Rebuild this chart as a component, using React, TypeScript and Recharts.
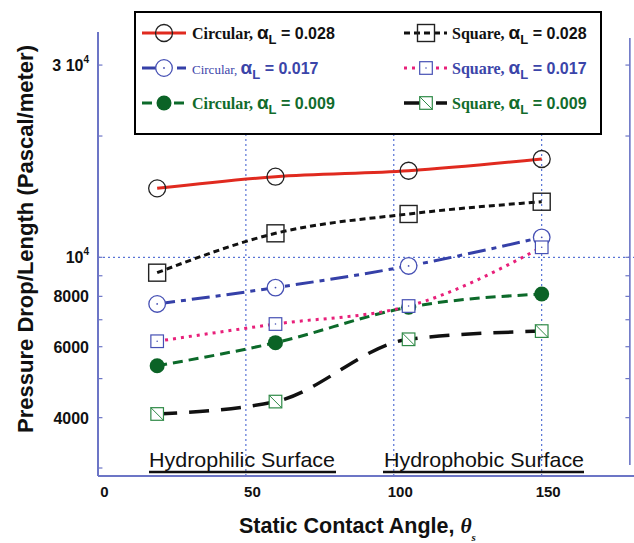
import { LineChart, Line, XAxis, YAxis, ReferenceLine, Legend } from 'recharts'

// contact angle (deg) of the four test surfaces
const angles = [20, 60, 105, 150]

// pressure drop per length, Pa/m
const circular028 = [14830, 15850, 16400, 17540]
const square028 = [9160, 11470, 12810, 13740]
const circular017 = [7660, 8410, 9520, 11210]
const square017 = [6190, 6830, 7570, 10590]
const circular009 = [5380, 6140, 7520, 8110]
const square009 = [4085, 4385, 6260, 6560]

const xTicks = [0, 50, 100, 150]
const yTicks = [4000, 6000, 8000, 10000, 30000]
const minorTicks = [3000, 4000, 5000, 6000, 7000, 8000, 9000, 10000, 20000, 30000]
const gridAngles = [50, 100, 150]

const AXIS = '#6c75c6'
const GRID = '#3355cc'

type MarkerKind = 'circle' | 'circleDot' | 'disc' | 'square' | 'squareDot' | 'squareSlash'

interface Series {
  key: string
  shape: string
  alpha: string
  values: number[]
  color: string
  dash?: string
  width: number
  marker: MarkerKind
  textColor: string
  small?: boolean
}

const series: Series[] = [
  { key: 'c009', shape: 'Circular,', alpha: '0.009', values: circular009, color: '#0c6a2a', dash: '10 6', width: 3, marker: 'disc', textColor: '#116b2c' },
  { key: 's009', shape: 'Square,', alpha: '0.009', values: square009, color: '#111', dash: '20 12', width: 3.5, marker: 'squareSlash', textColor: '#116b2c' },
  { key: 'c017', shape: 'Circular,', alpha: '0.017', values: circular017, color: '#3540a8', dash: '18 6 5 6', width: 3, marker: 'circleDot', textColor: '#3b45a9', small: true },
  { key: 's017', shape: 'Square,', alpha: '0.017', values: square017, color: '#e8207a', dash: '3 5', width: 3, marker: 'squareDot', textColor: '#3b45a9' },
  { key: 'c028', shape: 'Circular,', alpha: '0.028', values: circular028, color: '#e02a1f', width: 3, marker: 'circle', textColor: '#111' },
  { key: 's028', shape: 'Square,', alpha: '0.028', values: square028, color: '#111', dash: '6 4', width: 3, marker: 'square', textColor: '#111' },
]

const legendRows = [
  ['c028', 's028'],
  ['c017', 's017'],
  ['c009', 's009'],
]

const data = angles.map((angle, i) => {
  const row: Record<string, number> = { angle }
  series.forEach((s) => (row[s.key] = s.values[i]))
  return row
})

function drawMarker(kind: MarkerKind, cx: number, cy: number, key?: string | number) {
  switch (kind) {
    case 'circle':
      return <circle key={key} cx={cx} cy={cy} r={8.5} fill='none' stroke='#222' strokeWidth={1.3} />
    case 'circleDot':
      return (
        <g key={key}>
          <circle cx={cx} cy={cy} r={8.3} fill='#fff' stroke='#4650b4' strokeWidth={1.3} />
          <circle cx={cx} cy={cy} r={0.9} fill='#4650b4' />
        </g>
      )
    case 'disc':
      return <circle key={key} cx={cx} cy={cy} r={7.5} fill='#0b6326' />
    case 'square':
      return <rect key={key} x={cx - 8.5} y={cy - 8.5} width={17} height={17} fill='none' stroke='#222' strokeWidth={1.4} />
    case 'squareDot':
      return (
        <g key={key}>
          <rect x={cx - 6.3} y={cy - 6.3} width={12.6} height={12.6} fill='#fff' stroke='#4650b4' strokeWidth={1.2} />
          <circle cx={cx} cy={cy} r={0.8} fill='#4650b4' />
        </g>
      )
    case 'squareSlash':
      return (
        <g key={key}>
          <rect x={cx - 6.3} y={cy - 6.3} width={12.6} height={12.6} fill='#fff' stroke='#2f8a47' strokeWidth={1.2} />
          <line x1={cx - 6.3} y1={cy - 6.3} x2={cx + 6.3} y2={cy + 6.3} stroke='#2f8a47' strokeWidth={1} />
        </g>
      )
  }
}

function LegendBox() {
  const cols = [
    { x1: 8, x2: 52, mx: 30, tx: 58 },
    { x1: 270, x2: 313, mx: 292, tx: 318 },
  ]
  return (
    <svg width={468} height={124} style={{ display: 'block' }}>
      <rect x={1} y={1} width={466} height={122} fill='#fff' stroke='#000' strokeWidth={2} />
      {legendRows.map((row, r) =>
        row.map((k, c) => {
          const s = series.find((it) => it.key === k)!
          const col = cols[c]
          const y = 22 + r * 35
          return (
            <g key={k}>
              <line x1={col.x1} x2={col.x2} y1={y} y2={y} stroke={s.color} strokeWidth={s.width} strokeDasharray={s.dash} />
              {drawMarker(s.marker, col.mx, y)}
              <text x={col.tx} y={y + 6} fill={s.textColor}>
                <tspan fontFamily='Liberation Serif' fontWeight={s.small ? 'normal' : 'bold'} fontSize={s.small ? 13 : 16}>
                  {s.shape}{' '}
                </tspan>
                <tspan fontFamily='Liberation Sans' fontWeight='bold' fontSize={19}>α</tspan>
                <tspan fontFamily='Liberation Sans' fontWeight='bold' fontSize={13} dy={5}>L</tspan>
                <tspan fontFamily='Liberation Sans' fontWeight='bold' fontSize={16} dy={-5}>{` = ${s.alpha}`}</tspan>
              </text>
            </g>
          )
        })
      )}
    </svg>
  )
}

function XTick(props: any) {
  const { x, y, payload } = props
  return (
    <text x={x + 6.5} y={y + 21} textAnchor='middle' fontFamily='Liberation Sans' fontWeight='bold' fontSize={15} fill='#111'>
      {payload.value}
    </text>
  )
}

function YTick(props: any) {
  const { x, y, payload } = props
  const v = payload.value as number
  const common = { fontFamily: 'Liberation Sans', fontWeight: 'bold', fill: '#111' } as const
  if (v >= 10000) {
    const lead = v === 10000 ? '10' : `${v / 10000} 10`
    return (
      <text x={x} y={y + 6} textAnchor='end' {...common} fontSize={16}>
        {lead}
        <tspan fontSize={10} dy={-8}>4</tspan>
      </text>
    )
  }
  return (
    <text x={x} y={y + 6} textAnchor='end' {...common} fontSize={16}>
      {v}
    </text>
  )
}

export default function App() {
  return (
    <div style={{ position: 'absolute', left: 0, top: 0, width: 634, height: 543, background: '#fff' }}>
      <LineChart width={634} height={543} data={data} margin={{ top: 32, right: 0, bottom: 0, left: 0 }}>
        <XAxis
          dataKey='angle'
          type='number'
          domain={[0, 181.2]}
          ticks={xTicks}
          interval={0}
          tickLine={false}
          tickSize={0}
          tickMargin={0}
          height={67}
          axisLine={{ stroke: AXIS, strokeWidth: 2 }}
          tick={XTick}
        />
        <XAxis
          xAxisId='top'
          orientation='top'
          dataKey='angle'
          type='number'
          domain={[0, 181.2]}
          height={0}
          tick={false}
          tickLine={false}
          axisLine={{ stroke: AXIS, strokeWidth: 1.5 }}
        />
        <YAxis
          scale='log'
          domain={[2866, 36240]}
          allowDataOverflow
          ticks={yTicks}
          interval={0}
          width={98}
          tickLine={false}
          tickSize={0}
          tickMargin={9}
          axisLine={{ stroke: AXIS, strokeWidth: 2 }}
          tick={YTick}
        />
        {gridAngles.map((a) => (
          <ReferenceLine key={`g${a}`} x={a} stroke={GRID} strokeDasharray='2 3' strokeWidth={1} />
        ))}
        <ReferenceLine y={10000} stroke={GRID} strokeDasharray='2 3' strokeWidth={1} />
        <ReferenceLine
          segment={[{ x: 179.8, y: 3050 }, { x: 179.8, y: 35000 }]}
          stroke={AXIS}
          strokeWidth={1.6}
        />
        {minorTicks.map((v) => (
          <ReferenceLine key={`l${v}`} segment={[{ x: 0, y: v }, { x: 1.5, y: v }]} stroke={AXIS} strokeWidth={1.2} />
        ))}
        {minorTicks
          .filter((v) => v > 3050)
          .map((v) => (
            <ReferenceLine key={`r${v}`} segment={[{ x: 178.3, y: v }, { x: 179.8, y: v }]} stroke={AXIS} strokeWidth={1.2} />
          ))}
        {series.map((s) => (
          <Line
            key={s.key}
            dataKey={s.key}
            type='monotone'
            stroke={s.color}
            strokeWidth={s.width}
            strokeDasharray={s.dash}
            isAnimationActive={false}
            dot={(p: any) => drawMarker(s.marker, p.cx, p.cy, `${s.key}${p.index}`)}
            activeDot={false}
          />
        ))}
        <Legend
          layout='vertical'
          align='center'
          verticalAlign='middle'
          content={() => <LegendBox />}
          wrapperStyle={{ left: 134, top: 11, width: 468, height: 124 }}
        />
      </LineChart>
      <svg
        width={634}
        height={543}
        style={{ position: 'absolute', left: 0, top: 0, pointerEvents: 'none' }}
      >
        <text x={149} y={467} fontFamily='Liberation Sans' fontSize={21} fill='#111' textLength={186} lengthAdjust='spacingAndGlyphs'>
          Hydrophilic Surface
        </text>
        <line x1={149} x2={336} y1={472} y2={472} stroke='#111' strokeWidth={2.5} />
        <text x={384} y={467} fontFamily='Liberation Sans' fontSize={21} fill='#111' textLength={200} lengthAdjust='spacingAndGlyphs'>
          Hydrophobic Surface
        </text>
        <line x1={383} x2={584} y1={472} y2={472} stroke='#111' strokeWidth={2.5} />
        <text
          transform='translate(33,239) rotate(-90)'
          textAnchor='middle'
          fontFamily='Liberation Sans'
          fontWeight='bold'
          fontSize={22}
          fill='#111'
          textLength={388}
          lengthAdjust='spacingAndGlyphs'
        >
          Pressure Drop/Length (Pascal/meter)
        </text>
        <text x={239} y={533} fontFamily='Liberation Sans' fontWeight='bold' fontSize={21.5} fill='#111'>
          Static Contact Angle,{' '}
          <tspan fontFamily='Liberation Serif' fontStyle='italic'>θ</tspan>
          <tspan fontFamily='Liberation Serif' fontStyle='italic' fontSize={11} dy={8}>s</tspan>
        </text>
      </svg>
    </div>
  )
}
